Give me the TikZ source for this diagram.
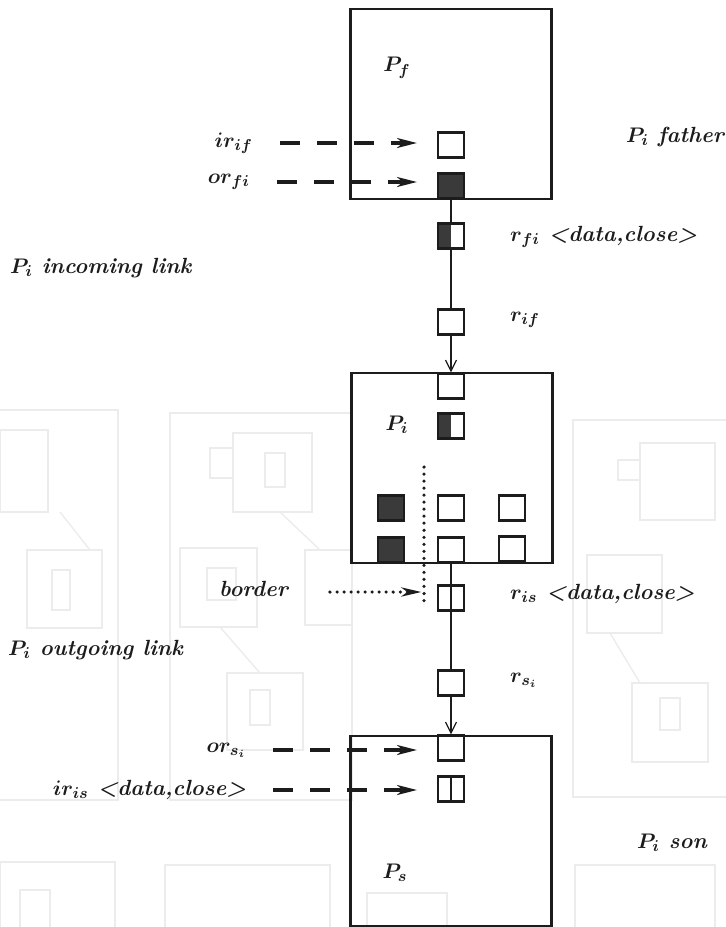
\documentclass[tikz,border=0pt]{standalone}
\usepackage{xcolor}
\usetikzlibrary{arrows.meta}
\definecolor{scanink}{HTML}{1C1C1C}
\definecolor{portink}{HTML}{3A3A3A}
\definecolor{bleed}{HTML}{ECECEC}

\begin{document}
\begin{tikzpicture}[x=0.02cm,y=-0.02cm,
  point/.style={coordinate},
  proc/.style={draw=scanink, line width=1.3pt, rectangle, minimum width=4.02cm, minimum height=3.8cm},
  port/.style={draw=scanink, line width=1.2pt, rectangle, fill=white, inner sep=0pt, minimum width=0.52cm, minimum height=0.5cm},
  fullport/.style={port, fill=portink},
  halfport/.style={port, path picture={\fill[portink] (path picture bounding box.south west) rectangle (path picture bounding box.north);}},
  splitport/.style={port, path picture={\draw[scanink, line width=1.1pt] (path picture bounding box.south) -- (path picture bounding box.north);}},
  tag/.style={text=scanink, font=\fontsize{12.5}{15}\selectfont\bfseries\itshape\boldmath, inner sep=1pt},
  link/.style={draw=scanink, line width=0.7pt},
  feed/.style={link, -{Straight Barb[length=0.22cm, width=0.22cm]}},
  dasharrow/.style={draw=scanink, line width=1.8pt, dash pattern=on 0.4cm off 0.34cm, shorten <=0.5cm, shorten >=0.4cm, -{Stealth[length=0.4cm, width=0.2cm, inset=0.12cm]}},
  dotline/.style={draw=scanink, line width=2pt, line cap=round, dash pattern=on 0pt off 4pt},
  dotarrow/.style={dotline, shorten <=0.8cm, shorten >=0.05cm, -{Stealth[length=0.4cm, width=0.18cm, inset=0.12cm]}},
  bleedline/.style={draw=bleed, line width=0.8pt}]
\useasboundingbox (0,0) rectangle (726,927);
\draw[bleedline] (-5,410) rectangle (118,800);
\draw[bleedline] (0,430) rectangle (48,512);
\draw[bleedline] (27,550) rectangle (102,628);
\draw[bleedline] (52,570) rectangle (70,610);
\draw[bleedline] (170,413) rectangle (352,800);
\draw[bleedline] (233,433) rectangle (312,512);
\draw[bleedline] (210,448) rectangle (233,478);
\draw[bleedline] (265,453) rectangle (285,487);
\draw[bleedline] (180,548) rectangle (257,627);
\draw[bleedline] (207,568) rectangle (236,600);
\draw[bleedline] (305,550) rectangle (352,625);
\draw[bleedline] (227,673) rectangle (303,750);
\draw[bleedline] (250,690) rectangle (270,725);
\draw[bleedline] (60,512) -- (90,550);
\draw[bleedline] (280,512) -- (320,550);
\draw[bleedline] (220,627) -- (260,673);
\draw[bleedline] (573,420) rectangle (730,797);
\draw[bleedline] (640,443) rectangle (715,520);
\draw[bleedline] (618,460) rectangle (640,480);
\draw[bleedline] (587,555) rectangle (662,633);
\draw[bleedline] (632,683) rectangle (708,762);
\draw[bleedline] (660,698) rectangle (680,730);
\draw[bleedline] (610,633) -- (640,683);
\draw[bleedline] (0,862) rectangle (115,940);
\draw[bleedline] (20,890) rectangle (50,940);
\draw[bleedline] (165,865) rectangle (330,940);
\draw[bleedline] (367,893) rectangle (447,940);
\draw[bleedline] (575,865) rectangle (715,940);
\node[proc] (0) at (451,104) {};
\node[tag] (1) at (397,68) {$P_f$};
\node[port] (2) at (451,145) {};
\node[fullport] (3) at (451,186) {};
\node[tag, anchor=east] (4) at (255,143) {$ir_{if}$};
\node[tag, anchor=east] (5) at (252,182) {$or_{fi}$};
\node[halfport] (6) at (451,236) {};
\node[tag, anchor=west] (7) at (508,237) {$r_{fi}$ <data,close>};
\node[port] (8) at (451,322) {};
\node[tag, anchor=west] (9) at (508,320) {$r_{if}$};
\node[proc] (10) at (452,468) {};
\node[tag] (11) at (397,425) {$P_i$};
\node[port] (12) at (451,386) {};
\node[halfport] (13) at (451,426) {};
\node[fullport] (14) at (391,508) {};
\node[port] (15) at (451,508) {};
\node[port] (16) at (512,508) {};
\node[fullport] (17) at (391,550) {};
\node[port] (18) at (451,550) {};
\node[port] (19) at (512,549) {};
\node[point] (20) at (424,467) {};
\node[point] (21) at (424,604) {};
\node[point] (22) at (424,592) {};
\node[tag, anchor=east] (23) at (290,589) {border};
\node[splitport] (24) at (451,598) {};
\node[tag, anchor=west] (25) at (508,594) {$r_{is}$ <data,close>};
\node[port] (26) at (451,683) {};
\node[tag, anchor=west] (27) at (508,680) {$r_{s_i}$};
\node[proc] (28) at (451,831) {};
\node[tag] (29) at (395,873) {$P_s$};
\node[port] (30) at (451,748) {};
\node[splitport] (31) at (451,789) {};
\node[tag, anchor=east] (32) at (248,750) {$or_{s_i}$};
\node[tag, anchor=east] (33) at (248,790) {$ir_{is}$ <data,close>};
\node[tag] (34) at (675,137) {$P_i$ father};
\node[tag, anchor=west] (35) at (8,268) {$P_i$ incoming link};
\node[tag, anchor=west] (36) at (6,650) {$P_i$ outgoing link};
\node[tag] (37) at (672,843) {$P_i$ son};
\draw[link] (3) -- (6);
\draw[link] (6) -- (8);
\draw[feed] (8) -- (12);
\draw[link] (18) -- (24);
\draw[link] (24) -- (26);
\draw[feed] (26) -- (30);
\draw[dasharrow] (4.east) -- (4.east -| 2.west);
\draw[dasharrow] (5.east) -- (5.east -| 3.west);
\draw[dasharrow] (32.east) -- (32.east -| 30.west);
\draw[dasharrow] (33.east) -- (33.east -| 31.west);
\draw[dotline] (20) -- (21);
\draw[dotarrow] (22 -| 23.east) -- (22);
\end{tikzpicture}
\end{document}
